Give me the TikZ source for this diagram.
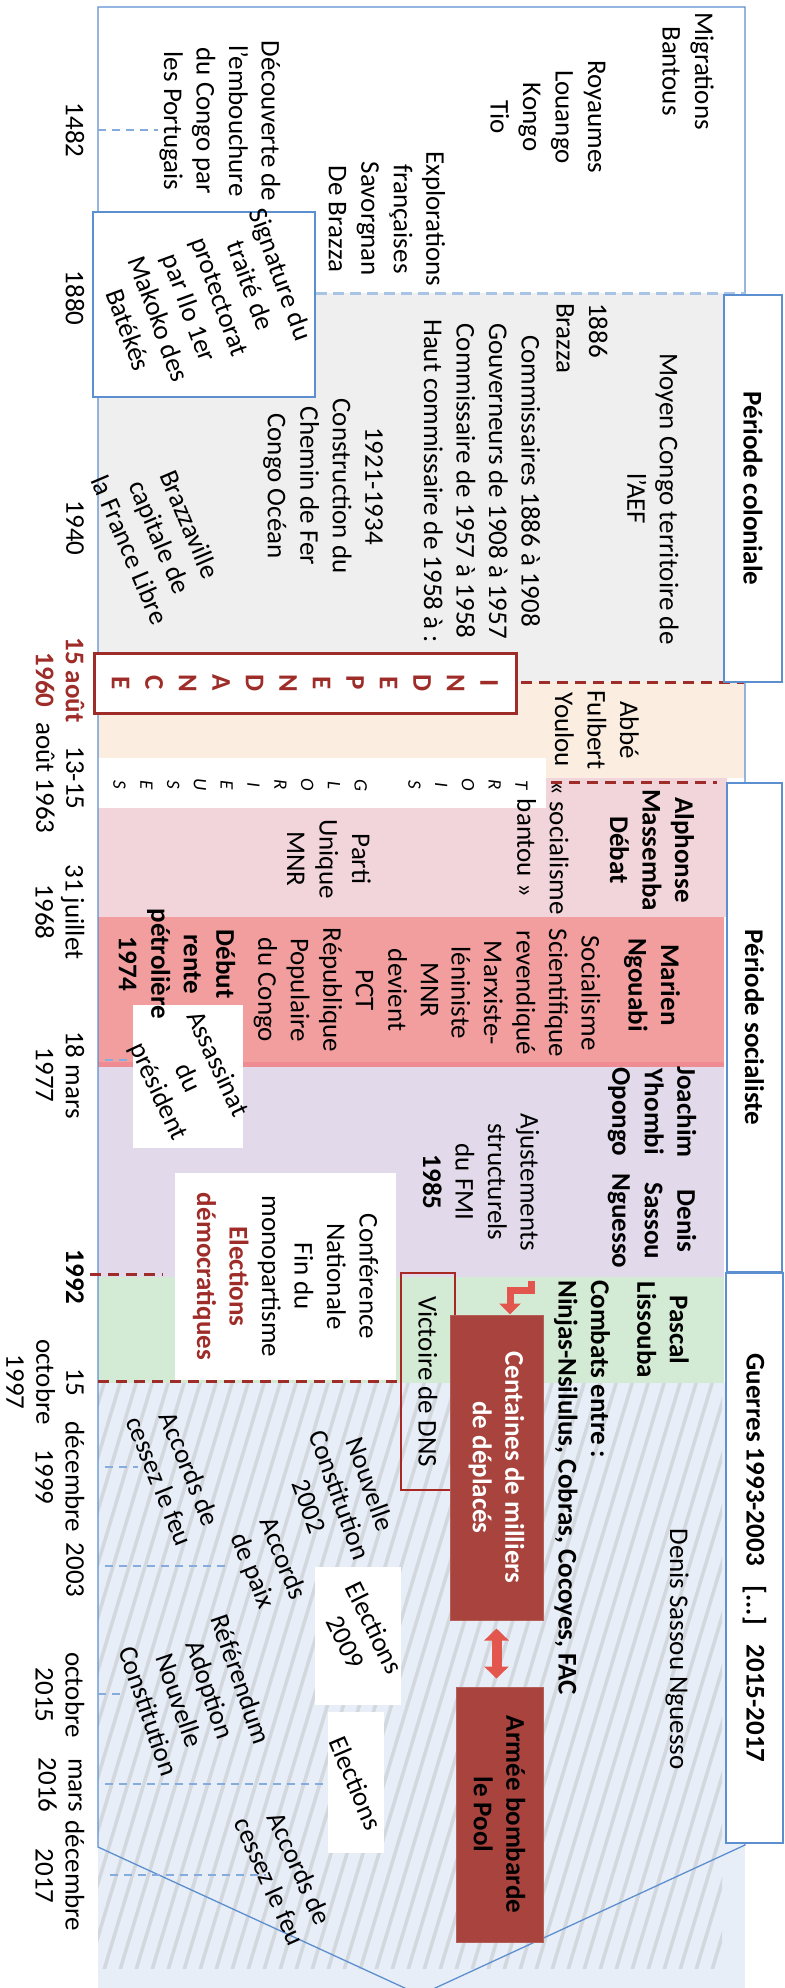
\documentclass[tikz,border=0pt]{standalone}
\usepackage{fontspec}
\setmainfont{Carlito}
\usetikzlibrary{arrows.meta}
\definecolor{frameblue}{HTML}{5B8FCF}
\definecolor{markblue}{HTML}{86ACDD}
\definecolor{topdash}{HTML}{A9C3E6}
\definecolor{colgrey}{HTML}{EFEFEF}
\definecolor{youlou}{HTML}{FBEEE1}
\definecolor{debat}{HTML}{F2D4DB}
\definecolor{ngouabi}{HTML}{F29E9E}
\definecolor{ngouabiedge}{HTML}{EE8B93}
\definecolor{yhombi}{HTML}{E2DAEA}
\definecolor{lissouba}{HTML}{D3EBD4}
\definecolor{sassou}{HTML}{E8EEF7}
\definecolor{stripe}{HTML}{D3D7DE}
\definecolor{indred}{HTML}{9E2C28}
\definecolor{boxred}{HTML}{A8433D}
\definecolor{arrowred}{HTML}{E2564E}
\tikzset{txt/.style={rotate=-90, align=center, inner sep=0pt,
        font=\fontsize{27}{32.5}\selectfont},
    btxt/.style={txt, font=\fontsize{27}{32.5}\selectfont\bfseries},
    year/.style={txt, font=\fontsize{27}{30}\selectfont},
    yearred/.style={txt, text=indred, font=\fontsize{27}{30}\selectfont\bfseries},
    tilted/.style={rotate=#1, align=center, inner sep=0pt,
        font=\fontsize{27}{32.5}\selectfont},
    tilted/.default=-68,
    periodbox/.style={btxt, draw=frameblue, line width=1.3pt, fill=white},
    redbox/.style={btxt, fill=boxred, draw=boxred!85!white, line width=1pt},
    datemark/.style={draw=markblue, line width=2.5pt, dash pattern=on 8pt off 6pt},
    reddash/.style={draw=indred, line width=3pt, dash pattern=on 11pt off 7pt},
    }

\begin{document}
\begin{tikzpicture}[x=1pt, y=-1pt]
\useasboundingbox (0,0) rectangle (784,1988);
% bands
\fill[colgrey] (98,293) rectangle (724,682);
\fill[youlou] (98,682) rectangle (745,778);
\fill[debat] (98,778) rectangle (727,917);
\fill[ngouabi] (98,917) rectangle (724,1067);
\fill[ngouabiedge] (98,1062) rectangle (724,1067);
\fill[yhombi] (98,1067) rectangle (724,1277);
\fill[lissouba] (98,1277) rectangle (724,1383);
\fill[sassou] (98,1383) rectangle (745,1988);
\fill[white] (98,758) rectangle (546,808);
\begin{scope}
\clip (98,1383) rectangle (722,1968);
\foreach \s in {-200,-184,...,730}
    \draw[stripe, line width=3.5pt] (\s,1970) -- ++(180,-600);
\end{scope}
\draw[frameblue, line width=1.3pt] (98,7) -- (745,7) -- (745,1845) -- (420,1995) -- (98,1847) -- cycle;
\draw[topdash, line width=3pt, dash pattern=on 11pt off 6pt] (316,293) -- (745,293);

% dates
\draw[datemark] (98,130) -- (158,130);
\draw[datemark] (105,1060) -- (135,1060);
\draw[datemark] (105,1467) -- (138,1467);
\draw[datemark] (105,1566) -- (228,1566);
\draw[datemark] (98,1694) -- (125,1694);
\draw[datemark] (105,1784) -- (328,1784);
\draw[datemark] (110,1875) -- (266,1875);
\draw[reddash] (521,682) -- (744,682);
\draw[reddash] (551,782) -- (717,782);
\draw[reddash] (90,1274) -- (163,1274);
\draw[reddash] (98,1381) -- (401,1381);

\node[year] (y1482) at (75,130) {1482};
\node[year] (y1880) at (75,298) {1880};
\node[year] (y1940) at (75,528) {1940};
\node[yearred] (y1960) at (60,680) {15 août\\1960};
\node[year] (y1963) at (60,778) {13-15\\août 1963};
\node[year] (y1968) at (60,912) {31 juillet\\1968};
\node[year] (y1977) at (60,1075) {18 mars\\1977};
\node[year, font=\fontsize{27}{30}\selectfont\bfseries] (y1992) at (75,1277) {1992};
\node[year] (y1997) at (45,1382) {15\\octobre\\1997};
\node[year] (y1999) at (60,1477) {décembre\\1999};
\node[year] (y2003) at (75,1570) {2003};
\node[year] (y2015) at (60,1695) {octobre\\2015};
\node[year] (y2016) at (60,1785) {mars\\2016};
\node[year] (y2017) at (60,1876) {décembre\\2017};

% periods
\node[periodbox, minimum width=387pt, minimum height=58pt] (coloniale) at (753,488.5) {Période coloniale};
\node[periodbox, minimum width=489pt, minimum height=55pt] (socialiste) at (754.5,1027.5) {Période socialiste};
\node[periodbox, minimum width=570pt, minimum height=57pt] (guerres) at (754.5,1558)
    {Guerres 1993-2003\hspace{20pt}[...]\hspace{20pt}2015-2017};

% before 1880
\node[txt] (bantous) at (688,71) {Migrations\\Bantous};
\node[txt] (royaumes) at (548,117) {Royaumes\\Louango\\Kongo\\Tio};
\node[txt] (explorations) at (387,219) {Explorations\\françaises\\Savorgnan\\De Brazza};
\filldraw[fill=white, draw=frameblue, line width=1.3pt] (93,212) rectangle (315,397);
\node[txt] (embouchure) at (220,121) {Découverte de\\l’embouchure\\du Congo par\\les Portugais};
\node[tilted=-70] (makoko) at (205,302) {Signature du\\traité de\\protectorat\\par Ilo 1er\\Makoko des\\Batékés};

% colonial
\node[txt] (aef) at (653,499) {Moyen Congo territoire de\\l’AEF};
\node[txt, align=left, anchor=west] (brazza) at (582,303) {1886\\Brazza};
\node[txt] (commissaires) at (482,481) {Commissaires 1886 à 1908\\Gouverneurs de 1908 à 1957\\Commissaire de 1957 à 1958\\Haut commissaire de 1958 à :};
\node[txt] (chemin) at (323,486) {1921-1934\\Construction du\\Chemin de Fer\\Congo Océan};
\node[tilted=-67] (capitale) at (160,537) {Brazzaville\\capitale de\\la France Libre};

% independance
\node[txt, draw=indred, line width=3pt, fill=white, text=indred,
    font=\fontsize{27}{33.5}\selectfont\bfseries,
    minimum width=60pt, minimum height=422pt] (independance) at (305,683)
    {I\\N\\D\\E\\P\\E\\N\\D\\A\\N\\C\\E};
\node[txt] (youlounom) at (597,730) {Abbé\\Fulbert\\Youlou};
\node[txt, font=\fontsize{19}{26.8}\selectfont\itshape] (glorieuses) at (320.5,785)
    {T\\R\\O\\I\\S\\~\\G\\L\\O\\R\\I\\E\\U\\S\\E\\S};

% socialist
\node[btxt] (debatnom) at (652,850) {Alphonse\\Massemba\\Débat};
\node[txt] (bantou) at (543,848) {« socialisme\\bantou »};
\node[txt] (mnr) at (329,859) {Parti\\Unique\\MNR};
\node[btxt] (ngouabinom) at (652,985) {Marien\\Ngouabi};
\node[txt] (marxiste) at (526,993) {Socialisme\\Scientifique\\revendiqué\\Marxiste-\\léniniste};
\node[txt] (pct) at (346,990) {MNR\\devient\\PCT\\République\\Populaire\\du Congo};
\fill[white] (133,1005) rectangle (243,1148);
\node[btxt] (rente) at (177,964) {Début\\rente\\pétrolière\\1974};
\node[tilted=-65] (assassinat) at (187,1078) {Assassinat\\du\\président};
\node[btxt] (yhombinom) at (652,1112) {Joachim\\Yhombi\\Opongo};
\node[btxt] (sassounom) at (652,1221) {Denis\\Sassou\\Nguesso};
\node[txt] (fmi) at (481,1182) {Ajustements\\structurels\\du FMI\\\textbf{1985}};
\node[txt, fill=white, minimum width=207pt, minimum height=221pt] (conference) at (285.5,1276.5)
    {Conférence\\Nationale\\Fin du\\monopartisme\\\textcolor{indred}{\bfseries Elections}\\\textcolor{indred}{\bfseries démocratiques}};

% wars
\node[btxt] (lissoubanom) at (663,1330) {Pascal\\Lissouba};
\node[btxt, align=left, anchor=west] (combats) at (582,1280) {Combats entre :\\Ninjas-Nsilulus, Cobras, Cocoyes, FAC};
\node[txt] (sassou2) at (677,1649) {Denis Sassou Nguesso};
\node[txt, draw=indred!90!red, line width=1.5pt, minimum width=217pt, minimum height=54pt] (victoire) at (428,1381.5) {Victoire de DNS};
\node[redbox, text=white, minimum width=305pt, minimum height=93pt] (centaines) at (496.5,1467.5) {Centaines de milliers\\de déplacés};
\node[redbox, minimum width=255pt, minimum height=87pt] (armee) at (499.5,1814.5) {Armée bombarde\\le Pool};
\coordinate (bentstart) at (531,1281);
\coordinate (bentfoot) at (510,1290);
\draw[arrowred, line width=7pt, line join=miter, -{Triangle[length=11pt,width=21pt]}]
    (bentstart) |- (bentfoot) -- (bentfoot |- centaines.west);
\draw[arrowred, line width=10pt, {Triangle[length=12pt,width=24pt]}-{Triangle[length=12pt,width=24pt]},
    shorten <=8pt, shorten >=8pt] (centaines.east) -- (centaines.east |- armee.west);

\node[tilted=-70] (constitution) at (340,1495) {Nouvelle\\Constitution\\2002};
\node[tilted=-68] (cessez) at (175,1475) {Accords de\\cessez le feu};
\node[tilted=-68] (paix) at (267,1565) {Accords\\de paix};
\fill[white] (315,1567) rectangle (401,1705);
\node[tilted=-64] (elections2009) at (360,1635) {Elections\\2009};
\node[tilted=-71] (referendum) at (195,1695) {Référendum\\Adoption\\Nouvelle\\Constitution};
\fill[white] (328,1712) rectangle (384,1853);
\node[tilted=-67] (elections2016) at (356,1783) {Elections};
\node[tilted=-66] (cessez2) at (285,1875) {Accords de\\cessez le feu};
\end{tikzpicture}
\end{document}
